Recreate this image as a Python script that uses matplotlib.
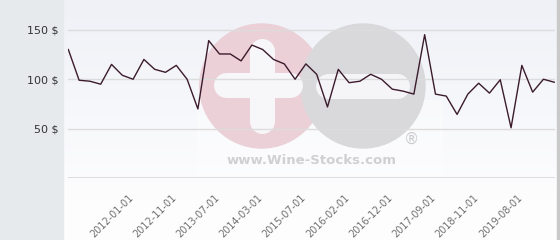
import matplotlib

matplotlib.use("Agg")

import matplotlib.pyplot as plt
import matplotlib.transforms as mtransforms
import numpy as np
from matplotlib.colors import LinearSegmentedColormap
from matplotlib.patches import Circle, Rectangle


# ==========================================================
# Data
# ==========================================================

dates = [
    "2011-01-01", "2011-03-01", "2011-05-01", "2011-07-01", "2011-09-01",
    "2011-11-01", "2012-01-01", "2012-03-01", "2012-05-01", "2012-08-01",
    "2012-11-01", "2013-01-01", "2013-03-01", "2013-05-01", "2013-07-01",
    "2013-09-01", "2013-11-01", "2014-01-01", "2014-03-01", "2014-06-01",
    "2014-10-01", "2015-02-01", "2015-07-01", "2015-09-01", "2015-11-01",
    "2016-01-01", "2016-02-01", "2016-05-01", "2016-07-01", "2016-10-01",
    "2016-12-01", "2017-02-01", "2017-05-01", "2017-07-01", "2017-09-01",
    "2017-12-01", "2018-03-01", "2018-07-01", "2018-11-01", "2019-01-01",
    "2019-04-01", "2019-06-01", "2019-08-01", "2019-10-01", "2019-12-01",
    "2020-02-01",
]

prices = [
    130, 99, 98, 95, 115, 104, 100, 120, 110, 107,
    114, 100, 70, 139, 125.5, 125.5, 118.5, 134.5, 130, 120,
    115.5, 100, 115.5, 105, 72, 110, 96.5, 98, 105, 100,
    90, 88, 85, 145, 85, 83, 64.5, 85, 96, 86,
    99.5, 51, 114, 87, 100, 97,
]

y_ticks = [50, 100, 150]
y_tick_labels = ["50 $", "100 $", "150 $"]

label_start = 6
label_step = 4

WIDTH, HEIGHT = 560, 240


# ==========================================================
# Figure and background
# ==========================================================

fig = plt.figure(figsize=(WIDTH / 100, HEIGHT / 100), dpi=100)
fig.patch.set_facecolor("white")

bg = fig.add_axes([0, 0, 1, 1], zorder=0)
bg.set_xlim(0, WIDTH)
bg.set_ylim(HEIGHT, 0)
bg.axis("off")

gradient = LinearSegmentedColormap.from_list(
    "panel", ["#eff1f7", "#fdfdfe"]
)
bg.imshow(
    np.linspace(0, 1, 200).reshape(-1, 1),
    cmap=gradient,
    extent=(63, 557, 200, 0),
    aspect="auto",
    zorder=0
)
bg.add_patch(Rectangle((63, 200), 494, 40, color="#fdfdfe", zorder=0))
bg.add_patch(Rectangle((0, 0), 63, HEIGHT, color="#e6eaed", zorder=1))
bg.add_patch(Rectangle((557, 0), 3, HEIGHT, color="#c9c9c9", zorder=1))

# watermark
bg.add_patch(Rectangle((197, 100), 245, 75, color="white", alpha=0.35,
                       zorder=1))
bg.add_patch(Circle((261.7, 86), 62, color="#ebd0d7", zorder=2))
bg.add_patch(Circle((363, 86), 62, color="#d9d9db", zorder=3))
bar_width = 25 * 72 / 100
bg.plot([261.7, 261.7], [51, 121], color="#f7f7fa", lw=bar_width,
        solid_capstyle="round", zorder=4)
bg.plot([226, 290], [85, 85], color="#f7f7fa", lw=bar_width,
        solid_capstyle="round", zorder=4)
bg.plot([328, 397], [86, 86], color="#f5f5f8", lw=bar_width,
        solid_capstyle="round", zorder=4)
bg.text(412, 139, "®", color="#cbcbcd", fontsize=11, ha="center",
        va="center", zorder=4)
bg.text(311.7, 160.5, "www.Wine-Stocks.com", color="#d0d0d2",
        fontsize=9.5, fontweight="bold", ha="center", va="center",
        zorder=4)


# ==========================================================
# Line chart
# ==========================================================

ax = fig.add_axes(
    [68 / WIDTH, 1 - 178.3 / HEIGHT, (555 - 68) / WIDTH, 178.3 / HEIGHT],
    zorder=2
)
ax.patch.set_alpha(0)

x = np.arange(len(prices))
ax.plot(x, prices, color="#3b1b2c", lw=1.0, zorder=3)

ax.set_xlim(-0.03, len(prices) - 1 + 0.07)
ax.set_ylim(0, 180)

ax.set_yticks(y_ticks)
ax.set_yticklabels(y_tick_labels, fontsize=8, color="#333333")
ax.tick_params(axis="y", length=0, pad=6.5)
ax.grid(axis="y", color="#dcdcdc", lw=1)
ax.axhline(0, color="#d8d8d8", lw=1.2, zorder=2)

label_idx = x[label_start::label_step]
ax.set_xticks(label_idx)
ax.set_xticklabels(
    [dates[i] for i in label_idx],
    rotation=45,
    ha="right",
    va="top",
    rotation_mode="anchor",
    fontsize=7,
    color="#707070"
)
ax.tick_params(axis="x", length=0, pad=10)

# nudge the rotated labels a little to the left
shift = mtransforms.ScaledTranslation(-5 / 100, 0, fig.dpi_scale_trans)
for label in ax.get_xticklabels():
    label.set_transform(label.get_transform() + shift)

for side in ax.spines.values():
    side.set_visible(False)

fig.savefig("out.png", dpi=100, facecolor=fig.get_facecolor())
